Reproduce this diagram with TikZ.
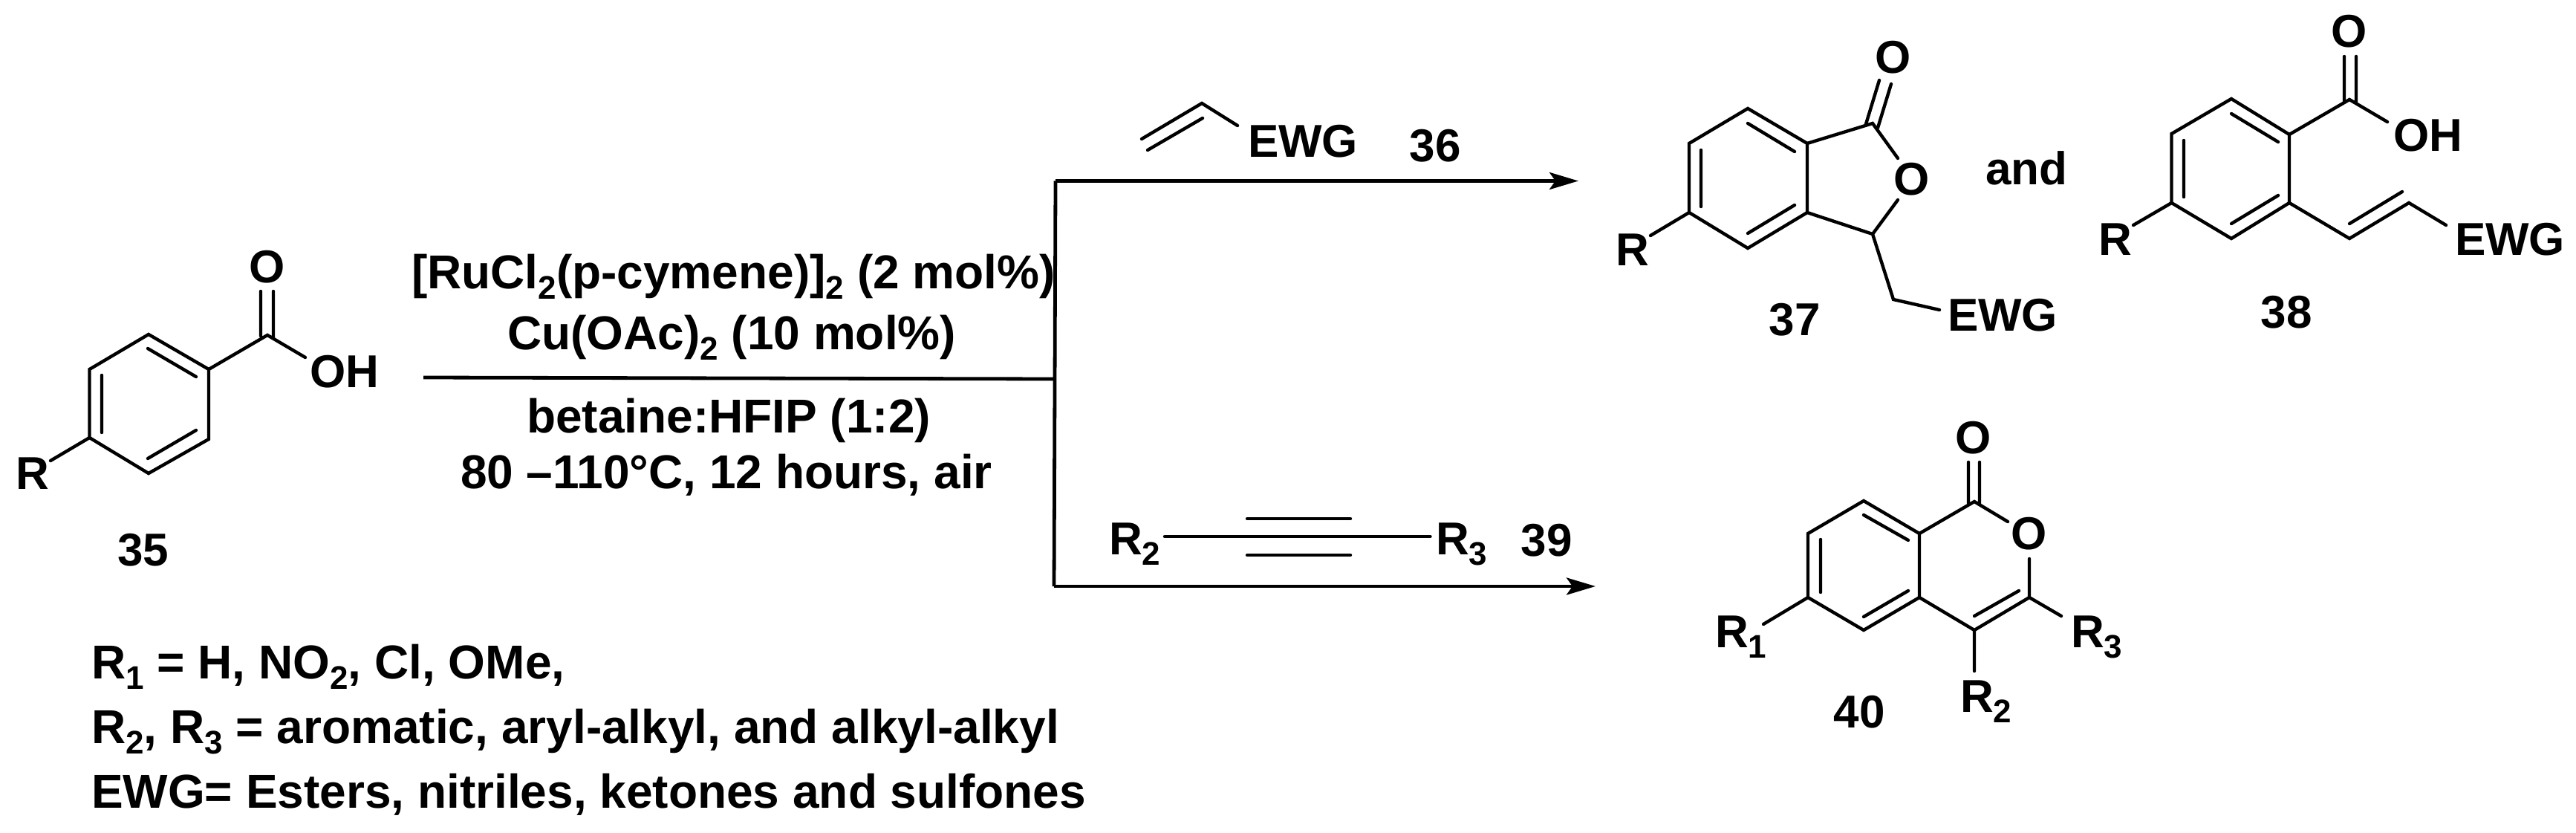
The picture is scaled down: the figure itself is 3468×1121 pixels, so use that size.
\documentclass[tikz,border=0pt]{standalone}
\usepackage{fontspec}
\setmainfont{Liberation Sans}
\usetikzlibrary{arrows.meta}
\newcommand{\sbs}[1]{\raisebox{-14pt}{\fontsize{44}{44}\selectfont #1}}
\tikzset{
  inset sep/.style={inner sep=0pt, outer sep=0pt},
  lbl/.style={inset sep, anchor=base west, font=\fontsize{62}{70}\selectfont\bfseries},
  lng/.style={inset sep, anchor=base west, font=\fontsize{64}{70}\selectfont\bfseries},
  ctr/.style={inset sep, anchor=center, font=\fontsize{62}{70}\selectfont\bfseries},
  bond/.style={line width=4.4pt, line cap=round, line join=miter, black},
  rxn/.style={line width=4.8pt, black},
  head/.style={-{Stealth[length=39pt,width=23pt,inset=8pt]}}
}
% vertices of a six-membered ring: top, upper right, lower right, bottom, lower left, upper left
\newcommand{\ringat}[7]{%
  \coordinate (#1t) at #2; \coordinate (#1ur) at #3; \coordinate (#1lr) at #4;
  \coordinate (#1b) at #5; \coordinate (#1ll) at #6; \coordinate (#1ul) at #7;
  \draw[bond] (#1t)--(#1ur)--(#1lr)--(#1b)--(#1ll)--(#1ul)--cycle;}
\begin{document}
\begin{tikzpicture}[x=1pt,y=-1pt]
\useasboundingbox (0,0) rectangle (3468,1121);

% ---------- 35
\ringat{a}{(200,450)}{(281,497)}{(281,591)}{(200,637)}{(120.5,589)}{(120.5,497)}
\coordinate (ai1) at (199,469); \coordinate (ai2) at (264,507);
\coordinate (ai3) at (137,505); \coordinate (ai4) at (137,582);
\coordinate (ai5) at (199,617); \coordinate (ai6) at (264,579);
\draw[bond] (ai1)--(ai2) (ai3)--(ai4) (ai5)--(ai6);
\coordinate (ac) at (360,451); \coordinate (aoh) at (411,481); \coordinate (ar) at (68,620);
\coordinate (ad1) at (351,392); \coordinate (ad2) at (351,452);
\coordinate (ad3) at (368,392); \coordinate (ad4) at (368,454);
\draw[bond] (aur)--(ac)--(aoh) (ad1)--(ad2) (ad3)--(ad4) (all)--(ar);
\node[ctr] (aO) at (360,359) {O};
\node[lbl] (aOH) at (417,521) {OH};
\node[lbl] (aR) at (21,658) {R};
\node[ctr] (n35) at (193,740) {35};

% ---------- reagents and branched arrow
\node[lng] (rg1) at (554,388) {[RuCl\sbs{2}(p-cymene)]\sbs{2} (2 mol\%)};
\node[lng] (rg2) at (683,470) {Cu(OAc)\sbs{2} (10 mol\%)};
\node[lng] (rg3) at (709,582) {betaine:HFIP (1:2)};
\node[lng] (rg4) at (620,657) {80 –110°C, 12 hours, air};
\coordinate (m0) at (570,508); \coordinate (m1) at (1421,510);
\coordinate (v1) at (1421,243.5); \coordinate (v2) at (1419,789);
\coordinate (tip1) at (2125,243.5); \coordinate (tip2) at (2148,789);
\draw[rxn] (m0)--(m1);
\draw[rxn, line cap=square] (v1)--(v2);
\draw[rxn,head] (v1)--(tip1);
\draw[rxn,head] (v2)--(tip2);

% ---------- 36
\coordinate (v36a) at (1537,187); \coordinate (v36b) at (1618,139); \coordinate (v36c) at (1666,169);
\coordinate (v36d) at (1545,202); \coordinate (v36e) at (1619,159);
\draw[bond] (v36a)--(v36b)--(v36c) (v36d)--(v36e);
\node[lbl] (e36) at (1680,211) {EWG};
\node[ctr] (n36) at (1932,196) {36};

% ---------- 39
\coordinate (t1) at (1568,722); \coordinate (t2) at (1925.5,722);
\coordinate (t3) at (1679,698); \coordinate (t4) at (1818,698);
\coordinate (t5) at (1679,747); \coordinate (t6) at (1818,747);
\draw[bond] (t1)--(t2) (t3)--(t4) (t5)--(t6);
\node[lbl] (r239) at (1493,746) {R\sbs{2}};
\node[lbl] (r339) at (1933,746) {R\sbs{3}};
\node[ctr] (n39) at (2082,727) {39};

% ---------- 37
\ringat{b}{(2353,146)}{(2433,193)}{(2433,286)}{(2353,334)}{(2274,286)}{(2274,193)}
\coordinate (bi1) at (2353,166); \coordinate (bi2) at (2416,204);
\coordinate (bi3) at (2290,202); \coordinate (bi4) at (2290,278);
\coordinate (bi5) at (2353,314); \coordinate (bi6) at (2416,276);
\draw[bond] (bi1)--(bi2) (bi3)--(bi4) (bi5)--(bi6);
\coordinate (bc1) at (2521,166); \coordinate (bo1) at (2555,213);
\coordinate (bo2) at (2555,269); \coordinate (bc3) at (2521,315);
\coordinate (bch) at (2549,403); \coordinate (be) at (2611,417); \coordinate (brb) at (2222,317);
\coordinate (bd1) at (2530,108); \coordinate (bd2) at (2512,167);
\coordinate (bd3) at (2546,113); \coordinate (bd4) at (2528,172);
\draw[bond] (bur)--(bc1)--(bo1) (blr)--(bc3)--(bo2) (bc3)--(bch)--(be)
  (bd1)--(bd2) (bd3)--(bd4) (bll)--(brb);
\node[ctr] (bOt) at (2549,77) {O};
\node[ctr] (bOr) at (2574,241) {O};
\node[lbl] (bR) at (2175,357) {R};
\node[lbl] (bE) at (2622,445) {EWG};
\node[ctr] (n37) at (2416,430) {37};
\node[lbl] (nand) at (2673,248) {and};

% ---------- 38
\ringat{c}{(3004,133)}{(3082,181)}{(3082,273)}{(3004,321)}{(2923.5,273)}{(2923.5,180)}
\coordinate (ci1) at (3004,153); \coordinate (ci2) at (3067,191);
\coordinate (ci3) at (2940,189); \coordinate (ci4) at (2940,265);
\coordinate (ci5) at (3004,301); \coordinate (ci6) at (3067,263);
\draw[bond] (ci1)--(ci2) (ci3)--(ci4) (ci5)--(ci6);
\coordinate (cc) at (3163,134); \coordinate (coh) at (3214,164); \coordinate (crb) at (2872,303);
\coordinate (cd1) at (3156,76); \coordinate (cd2) at (3156,136);
\coordinate (cd3) at (3172,76); \coordinate (cd4) at (3172,138);
\coordinate (cv1) at (3163,321); \coordinate (cv2) at (3243,273); \coordinate (cv3) at (3293,303);
\coordinate (cv4) at (3163,301); \coordinate (cv5) at (3234,258);
\draw[bond] (cur)--(cc)--(coh) (cd1)--(cd2) (cd3)--(cd4) (cll)--(crb)
  (clr)--(cv1)--(cv2)--(cv3) (cv4)--(cv5);
\node[ctr] (cO) at (3163,42) {O};
\node[lbl] (cOH) at (3222,203) {OH};
\node[lbl] (cR) at (2825,343) {R};
\node[lbl] (cE) at (3305,343) {EWG};
\node[ctr] (n38) at (3078,420) {38};

% ---------- 40
\ringat{d}{(2509,674)}{(2584,718)}{(2584,804)}{(2509,848)}{(2434,804)}{(2434,718)}
\coordinate (di1) at (2509,693); \coordinate (di2) at (2569,727);
\coordinate (di3) at (2451,726); \coordinate (di4) at (2451,797);
\coordinate (di5) at (2509,830); \coordinate (di6) at (2569,795);
\draw[bond] (di1)--(di2) (di3)--(di4) (di5)--(di6);
\coordinate (dc1) at (2658,675); \coordinate (do1) at (2703,702);
\coordinate (do2) at (2732,752); \coordinate (dc3) at (2732,804); \coordinate (dc4) at (2658,848);
\coordinate (dd1) at (2650,622); \coordinate (dd2) at (2650,677);
\coordinate (dd3) at (2665,622); \coordinate (dd4) at (2665,679);
\coordinate (dd5) at (2718,795); \coordinate (dd6) at (2658,829);
\coordinate (dr1) at (2374,840); \coordinate (dr2) at (2658,903); \coordinate (dr3) at (2775,829);
\draw[bond] (dur)--(dc1)--(do1) (do2)--(dc3)--(dc4)--(dlr)
  (dd1)--(dd2) (dd3)--(dd4) (dd5)--(dd6) (dll)--(dr1) (dc4)--(dr2) (dc3)--(dr3);
\node[ctr] (dOt) at (2657,589) {O};
\node[ctr] (dOr) at (2732,718) {O};
\node[lbl] (dR1) at (2309,871) {R\sbs{1}};
\node[lbl] (dR3) at (2788,871) {R\sbs{3}};
\node[lbl] (dR2) at (2639,958) {R\sbs{2}};
\node[ctr] (n40) at (2503,958) {40};

% ---------- legend
\node[lng] (leg1) at (123,913) {R\sbs{1} = H, NO\sbs{2}, Cl, OMe,};
\node[lng] (leg2) at (123,1000) {R\sbs{2}, R\sbs{3} = aromatic, aryl-alkyl, and alkyl-alkyl};
\node[lng] (leg3) at (123,1087) {EWG= Esters, nitriles, ketones and sulfones};
\end{tikzpicture}
\end{document}
